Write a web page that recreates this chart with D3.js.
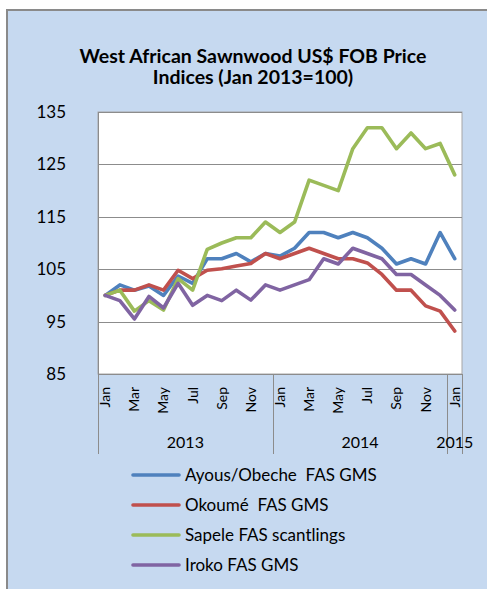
<!DOCTYPE html>
<html>
<head>
<meta charset="utf-8">
<script src="https://cdn.jsdelivr.net/npm/d3@7"></script>
<style>
  html, body { margin: 0; padding: 0; background: #ffffff; }
  svg { display: block; }
  text { font-family: Lato, "Open Sans", sans-serif; fill: #000; }
</style>
</head>
<body>
<svg id="chart" width="487" height="589"></svg>
<script>
// ---- data ----
const months = ["Jan","Feb","Mar","Apr","May","Jun","Jul","Aug","Sep","Oct","Nov","Dec",
                "Jan","Feb","Mar","Apr","May","Jun","Jul","Aug","Sep","Oct","Nov","Dec","Jan"];
const years = ["2013","2014","2015"];
const yearStart = [0, 12, 24];
const yearEnd = [11, 23, 24];
const seriesNames = ["Ayous/Obeche  FAS GMS", "Okoumé  FAS GMS", "Sapele FAS scantlings", "Iroko FAS GMS"];
const seriesColors = ["#4F81BD", "#C0504D", "#9BBB59", "#8064A2"];
const ayous  = [100, 102, 101, 101.8, 100, 103.7, 102.3, 107, 107, 108, 106.4, 108, 107.5, 109, 112, 112, 111, 112, 111, 109, 106, 107, 106, 112, 107];
const okoume = [100, 101, 101, 102, 101, 104.8, 103.2, 104.8, 105.1, 105.6, 106.1, 108, 107, 108, 109, 108, 107, 107, 106.2, 104, 101, 101, 98, 97, 93.2];
const sapele = [100, 101, 97, 99, 97.2, 103.2, 101, 108.8, 110, 111, 111, 114, 112, 114, 122, 121, 120, 128, 132, 132, 128, 131, 128, 129, 123];
const iroko  = [100, 99, 95.5, 99.8, 97.6, 102.3, 98.1, 100, 99, 101, 99.1, 102, 101, 102, 103, 107, 106, 109, 108, 107, 104, 104, 102, 100, 97.2];
const yTicks = [85, 95, 105, 115, 125, 135];
const titleLines = ["West African Sawnwood US$ FOB Price", "Indices (Jan 2013=100)"];

const allSeries = [ayous, okoume, sapele, iroko];

// ---- layout ----
const svg = d3.select("#chart");
const plot = { left: 98, right: 462, top: 112, bottom: 374 };

// chart area background + border
svg.append("rect").attr("x", 7).attr("y", 10).attr("width", 487).attr("height", 589)
  .attr("fill", "#C6D9F0").attr("stroke", "#8a8a8a").attr("stroke-width", 2);

// title
svg.append("g").selectAll("text").data(titleLines).join("text")
  .attr("x", 253).attr("y", (d, i) => 63 + i * 21)
  .attr("text-anchor", "middle")
  .attr("font-weight", "bold").attr("font-size", 19.5)
  .text(d => d);

const x = d3.scaleBand().domain(d3.range(months.length)).range([plot.left, plot.right]).padding(0);
const y = d3.scaleLinear().domain([85, 135]).range([plot.bottom, plot.top]);
const cx = i => x(i) + x.bandwidth() / 2;

// plot area
svg.append("rect").attr("x", plot.left).attr("y", plot.top)
  .attr("width", plot.right - plot.left).attr("height", plot.bottom - plot.top)
  .attr("fill", "#ffffff").attr("stroke", "#a6a6a6").attr("stroke-width", 1);

// gridlines
svg.append("g").selectAll("line").data(yTicks).join("line")
  .attr("x1", plot.left).attr("x2", plot.right)
  .attr("y1", d => Math.round(y(d)) + 0.5).attr("y2", d => Math.round(y(d)) + 0.5)
  .attr("stroke", "#8c8c8c").attr("stroke-width", 1);

// y axis via d3.axisLeft (labels only)
const yAxis = svg.append("g").attr("transform", `translate(${plot.left},0)`)
  .call(d3.axisLeft(y).tickValues(yTicks).tickSize(0).tickPadding(32));
yAxis.select(".domain").remove();
yAxis.selectAll("text").attr("font-size", 17).attr("font-family", "Lato, sans-serif").attr("fill", "#000");

// left axis line
svg.append("line").attr("x1", plot.left + 0.5).attr("x2", plot.left + 0.5)
  .attr("y1", plot.top).attr("y2", plot.bottom).attr("stroke", "#8c8c8c");

// x category labels (every other month)
svg.append("g").selectAll("text").data(months.map((m, i) => ({ m, i })).filter(d => d.i % 2 === 0))
  .join("text")
  .attr("transform", d => `translate(${cx(d.i)},387) rotate(-90)`)
  .attr("text-anchor", "end").attr("dy", "0.35em")
  .attr("font-size", 14)
  .text(d => d.m);

// year group separators
const sepX = [x(0), x(12), x(24), x(24) + x.bandwidth()];
svg.append("g").selectAll("line").data(sepX).join("line")
  .attr("x1", d => Math.round(d) + 0.5).attr("x2", d => Math.round(d) + 0.5)
  .attr("y1", plot.bottom).attr("y2", 454)
  .attr("stroke", "#8c8c8c").attr("stroke-width", 1);

// year labels
svg.append("g").selectAll("text").data(years).join("text")
  .attr("x", (d, i) => (x(yearStart[i]) + x(yearEnd[i]) + x.bandwidth()) / 2)
  .attr("y", 448)
  .attr("text-anchor", "middle").attr("font-size", 16)
  .text(d => d);

// lines
const line = d3.line().x((d, i) => cx(i)).y(d => y(d));
svg.append("g").selectAll("path").data(allSeries).join("path")
  .attr("d", d => line(d))
  .attr("fill", "none")
  .attr("stroke", (d, i) => seriesColors[i])
  .attr("stroke-width", 3.6)
  .attr("stroke-linejoin", "round")
  .attr("stroke-linecap", "round");

// legend
const lg = svg.append("g").selectAll("g").data(seriesNames).join("g")
  .attr("transform", (d, i) => `translate(0,${475 + i * 30})`);
lg.append("line").attr("x1", 133).attr("x2", 179).attr("y1", 0).attr("y2", 0)
  .attr("stroke", (d, i) => seriesColors[i]).attr("stroke-width", 3.6).attr("stroke-linecap", "round");
lg.append("text").attr("x", 185).attr("y", 0).attr("dy", "0.35em")
  .attr("font-size", 17).style("white-space", "pre")
  .text(d => d);
</script>
</body>
</html>
